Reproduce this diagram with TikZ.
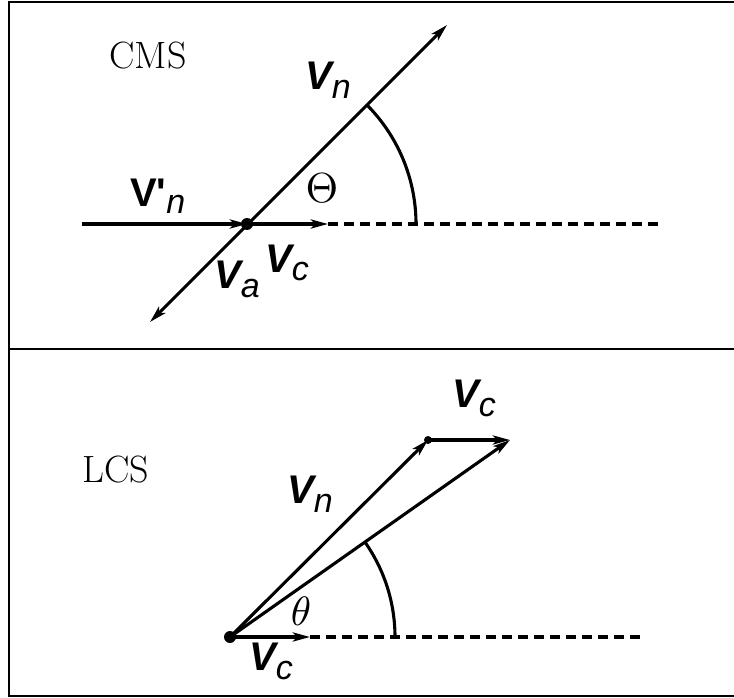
\documentclass[tikz,border=0pt]{standalone}
\usepackage{fontspec}
\newfontfamily\lsans{Liberation Sans}
\usetikzlibrary{arrows.meta,calc}
\newcommand{\velab}[1]{{\lsans\fontsize{40}{42}\selectfont\bfseries\itshape V}\raisebox{-9pt}{\lsans\fontsize{34}{36}\selectfont\itshape #1}}
\newcommand{\bigtxt}{\fontsize{38}{42}\selectfont}
\begin{document}
\begin{tikzpicture}[x=1pt,y=-1pt,
  frame/.style={line width=2.6pt},
  vec/.style={line width=3.1pt,-{Stealth[length=17pt,width=9pt,inset=4pt]}},
  dvec/.style={line width=3.1pt,{Stealth[length=17pt,width=9pt,inset=4pt]}-{Stealth[length=17pt,width=9pt,inset=4pt]}},
  plain/.style={line width=3.1pt},
  dashline/.style={line width=3.2pt,dash pattern=on 10pt off 6pt},
  lab/.style={inner sep=0pt,anchor=base west},
  dotfill/.style={fill=black}]
\useasboundingbox (0,0) rectangle (734,698);
% frame
\coordinate (TR) at (734,2);
\coordinate (TL) at (9,2);
\coordinate (BL) at (9,696);
\coordinate (BR) at (734,696);
\coordinate (ML) at (9,349);
\coordinate (MR) at (734,349);
\draw[frame] (TR) -- (TL) -- (BL) -- (BR);
\draw[frame] (ML) -- (MR);

% ---------- CMS panel ----------
\node (cms) at (148,56) {\bigtxt CMS};
\coordinate (O1) at (247,224);
\coordinate (L1) at (82,224);
\coordinate (C1) at (328,224);
\coordinate (E1) at (660,224);
\coordinate (A1) at (150,322);
\coordinate (N1) at (447,25);
\draw[vec] (L1) -- (O1);
\draw[vec] (O1) -- (C1);
\draw[dashline] (C1) -- (E1);
\draw[dvec] (A1) -- (N1);
\draw[plain] ($(O1)+(169,0)$) arc[start angle=0,end angle=-44.8,radius=169];
\fill[dotfill] (O1) circle (6);
\node[lab] (vn1) at (305,90) {\velab{n}};
\node[lab] (vpn) at (130,207) {{\lsans\fontsize{40}{42}\selectfont\bfseries V'}\raisebox{-6pt}{\lsans\fontsize{34}{36}\selectfont\itshape n}};
\node[lab] (va) at (214,288) {\velab{a}};
\node[lab] (vc1) at (265,272) {\velab{c}};
\node (Th) at (322,188) {\scalebox{4.2}{$\Theta$}};

% ---------- LCS panel ----------
\node (lcs) at (116,470) {\bigtxt LCS};
\coordinate (O2) at (230,637);
\coordinate (N2) at (428,440);
\coordinate (P2) at (510,440);
\coordinate (C2) at (310,637);
\coordinate (E2) at (645,637);
\draw[dashline] (C2) -- (E2);
\draw[vec] (O2) -- (N2);
\draw[vec] (N2) -- (P2);
\draw[vec] (O2) -- (P2);
\draw[vec] (O2) -- (C2);
\draw[plain] ($(O2)+(165,0)$) arc[start angle=0,end angle=-35.1,radius=165];
\fill[dotfill] (O2) circle (6);
\fill[dotfill] (N2) circle (4);
\node[lab] (vn2) at (287,503) {\velab{n}};
\node[lab] (vc2) at (452,407) {\velab{c}};
\node[lab] (vc3) at (249,670) {\velab{c}};
\node (th) at (301,611) {\scalebox{4.1}{$\theta$}};
\end{tikzpicture}
\end{document}
